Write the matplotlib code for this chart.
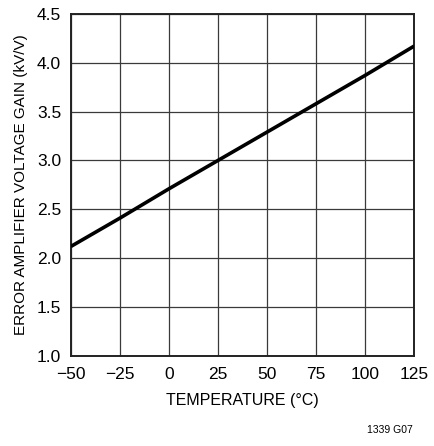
import numpy as np
import matplotlib
matplotlib.use("Agg")
import matplotlib.pyplot as plt

plt.rcParams['font.family'] = ['Liberation Sans', 'DejaVu Sans']

# data
temps = [-50, -25, 0, 25, 50, 75, 100, 125]
gain = [2.12, 2.41, 2.71, 3.0, 3.29, 3.58, 3.87, 4.17]

xticks = [-50, -25, 0, 25, 50, 75, 100, 125]
xlabels = ['\u221250', '\u221225', '0', '25', '50', '75', '100', '125']
yticks = [1.0, 1.5, 2.0, 2.5, 3.0, 3.5, 4.0, 4.5]

fig = plt.figure(figsize=(4.35, 4.46), dpi=100)
ax = fig.add_axes([0.163, 0.202, 0.789, 0.767])

ax.plot(temps, gain, color='black', lw=2.6, solid_capstyle='butt', zorder=3)

ax.set_xlim(-50, 125)
ax.set_ylim(1.0, 4.5)
ax.set_xticks(xticks)
ax.set_xticklabels(xlabels)
ax.set_yticks(yticks)
ax.set_yticklabels(['%.1f' % v for v in yticks])
ax.grid(True, color='#3a3a3a', lw=0.9)
ax.tick_params(length=0, labelsize=12.5)
ax.tick_params(axis='x', pad=8)
ax.tick_params(axis='y', pad=7)
for s in ax.spines.values():
    s.set_linewidth(1.4)
    s.set_color('#222222')

ax.set_xlabel('TEMPERATURE (\u00b0C)', fontsize=11.5, labelpad=8)
ax.set_ylabel('ERROR AMPLIFIER VOLTAGE GAIN (kV/V)', fontsize=11, labelpad=6)

fig.text(0.948, 0.025, '1339 G07', fontsize=7.5, ha='right', va='bottom')

fig.savefig('out.png', dpi=100)
